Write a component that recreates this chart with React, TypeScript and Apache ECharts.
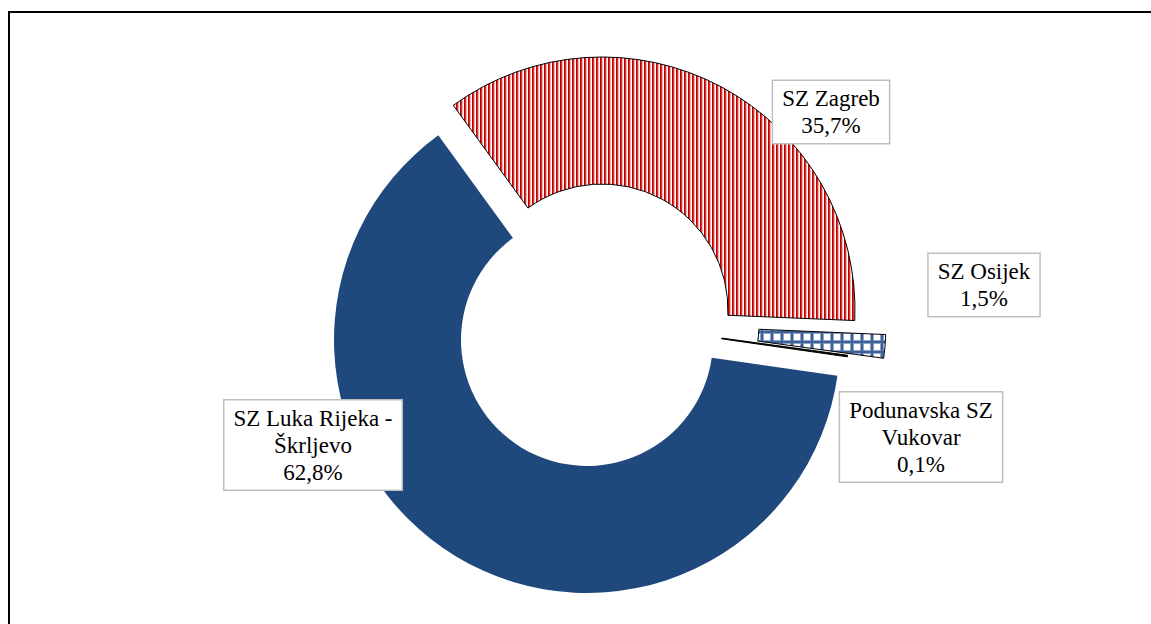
import React, { useEffect, useRef } from "react";
import * as echarts from "echarts";

const names = ["SZ Zagreb", "SZ Osijek", "Podunavska SZ Vukovar", "SZ Luka Rijeka - Škrljevo"];
const labelTexts = ["SZ Zagreb", "SZ Osijek", "Podunavska SZ\nVukovar", "SZ Luka Rijeka -\nŠkrljevo"];
const values = [35.7, 1.5, 0.1, 62.8];

function stripePattern() {
  const c = document.createElement("canvas");
  c.width = 4;
  c.height = 4;
  const ctx = c.getContext("2d")!;
  const cols = ["#C00000", "#D93030", "#F3B5B5", "#FFFFFF"];
  cols.forEach((col, i) => {
    ctx.fillStyle = col;
    ctx.fillRect(i, 0, 1, 4);
  });
  return { image: c, repeat: "repeat", imageWidth: 4, imageHeight: 4 } as any;
}

function checkPattern() {
  const c = document.createElement("canvas");
  c.width = 10;
  c.height = 10;
  const ctx = c.getContext("2d")!;
  ctx.fillStyle = "#FFFFFF";
  ctx.fillRect(0, 0, 10, 10);
  ctx.fillStyle = "#8EA5C8";
  ctx.fillRect(0, 0, 10, 4);
  ctx.fillRect(0, 0, 4, 10);
  ctx.fillStyle = "#3E6298";
  ctx.fillRect(0, 1, 10, 2);
  ctx.fillRect(1, 0, 2, 10);
  return { image: c, repeat: "repeat", imageWidth: 10, imageHeight: 10 } as any;
}

const fmt = (v: number) => v.toFixed(1).replace(".", ",") + "%";
const FONT = "Liberation Serif";

export default function App() {
  const ref = useRef<HTMLDivElement>(null);
  useEffect(() => {
    const chart = echarts.init(ref.current!, null, { renderer: "svg" });
    const centers: [number, number][] = [
      [602, 310],
      [633, 324],
      [597, 321],
      [587, 340],
    ];
    const labelPos: [number, number][] = [
      [831, 112],
      [984, 285],
      [921, 437],
      [313, 445],
    ];
    const styles: any[] = [
      { color: stripePattern(), borderColor: "#000", borderWidth: 1 },
      { color: checkPattern(), borderColor: "#000", borderWidth: 1 },
      { color: "#000", borderColor: "#000", borderWidth: 1 },
      { color: "#1F497D", borderWidth: 0 },
    ];
    const labelStyle = {
      fontFamily: FONT,
      fontSize: 23,
      lineHeight: 27,
      color: "#000",
    };
    const series = names.map((_, i) => ({
      type: "pie",
      radius: [126, 253],
      center: centers[i],
      startAngle: 126,
      clockwise: true,
      avoidLabelOverlap: false,
      silent: true,
      minAngle: 0,
      emphasis: { disabled: true },
      data: values.map((v, j) => ({
        name: names[j],
        value: v,
        itemStyle: j === i ? styles[i] : { color: "rgba(0,0,0,0)", borderWidth: 0 },
        label: { show: j === i },
      })),
      label: {
        show: true,
        position: "outside",
        formatter: (p: any) =>
          (labelTexts[p.dataIndex] + "\n" + fmt(p.value))
            .split("\n")
            .map((s) => "{t|" + s + "}")
            .join("\n"),
        rich: { t: labelStyle },
        ...labelStyle,
        align: "center",
        backgroundColor: "#fff",
        borderColor: "#BFBFBF",
        borderWidth: 1.5,
        padding: [4, 9, 4, 9],
      },
      labelLine: { show: false },
      labelLayout: () => ({
        x: labelPos[i][0],
        y: labelPos[i][1],
        align: "center",
        verticalAlign: "middle",
      }),
    }));
    chart.setOption({
      animation: false,
      backgroundColor: "#fff",
      textStyle: { fontFamily: FONT },
      graphic: [
        { type: "line", shape: { x1: 8, y1: 12, x2: 1151, y2: 12 }, style: { stroke: "#000", lineWidth: 2 } },
        { type: "line", shape: { x1: 9, y1: 11, x2: 9, y2: 624 }, style: { stroke: "#000", lineWidth: 2 } },
      ],
      series,
    } as any);
    return () => chart.dispose();
  }, []);
  return (
    <div
      ref={ref}
      style={{ position: "fixed", left: 0, top: 0, width: 1151, height: 624 }}
    />
  );
}
